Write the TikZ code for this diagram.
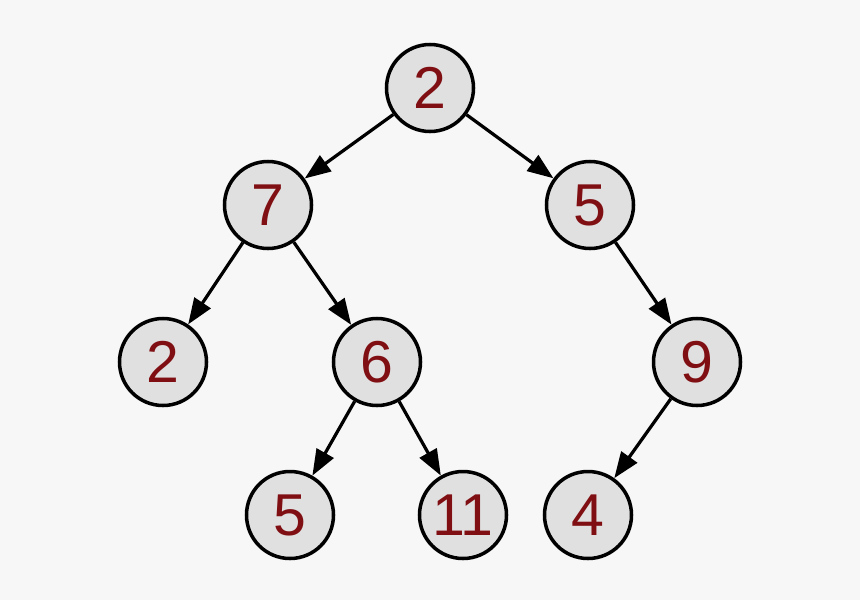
\documentclass[tikz,border=0pt]{standalone}
\usepackage{fontspec}
\setmainfont{Liberation Sans}
\usetikzlibrary{arrows.meta}
\definecolor{bgc}{HTML}{F7F7F7}
\definecolor{fillc}{HTML}{E0E0E0}
\definecolor{txtc}{HTML}{7F0F12}
\begin{document}
\begin{tikzpicture}[x=0.025cm,y=-0.025cm,
  tnode/.style={circle,draw=black,fill=fillc,line width=2.5pt,minimum size=87*0.025cm,inner sep=0pt,
    text=txtc,font=\fontsize{42}{50}\selectfont},
  edge/.style={line width=2.3pt,-{Triangle[length=0.65cm,width=0.48cm]}}]
\fill[bgc] (0,0) rectangle (860,600);
\useasboundingbox (0,0) rectangle (860,600);
\node[tnode] (r) at (430,88) {2};
\node[tnode] (a) at (268,205) {7};
\node[tnode] (b) at (590,205) {5};
\node[tnode] (c) at (163,362) {2};
\node[tnode] (d) at (377,362) {6};
\node[tnode] (e) at (697,362) {9};
\node[tnode] (f) at (290,515) {5};
\node[tnode] (g) at (463,515) {11};
\node[tnode] (h) at (588,515) {4};
\draw[edge] (r) -- (a);
\draw[edge] (r) -- (b);
\draw[edge] (a) -- (c);
\draw[edge] (a) -- (d);
\draw[edge] (b) -- (e);
\draw[edge] (d) -- (f);
\draw[edge] (d) -- (g);
\draw[edge] (e) -- (h);
\end{tikzpicture}
\end{document}
